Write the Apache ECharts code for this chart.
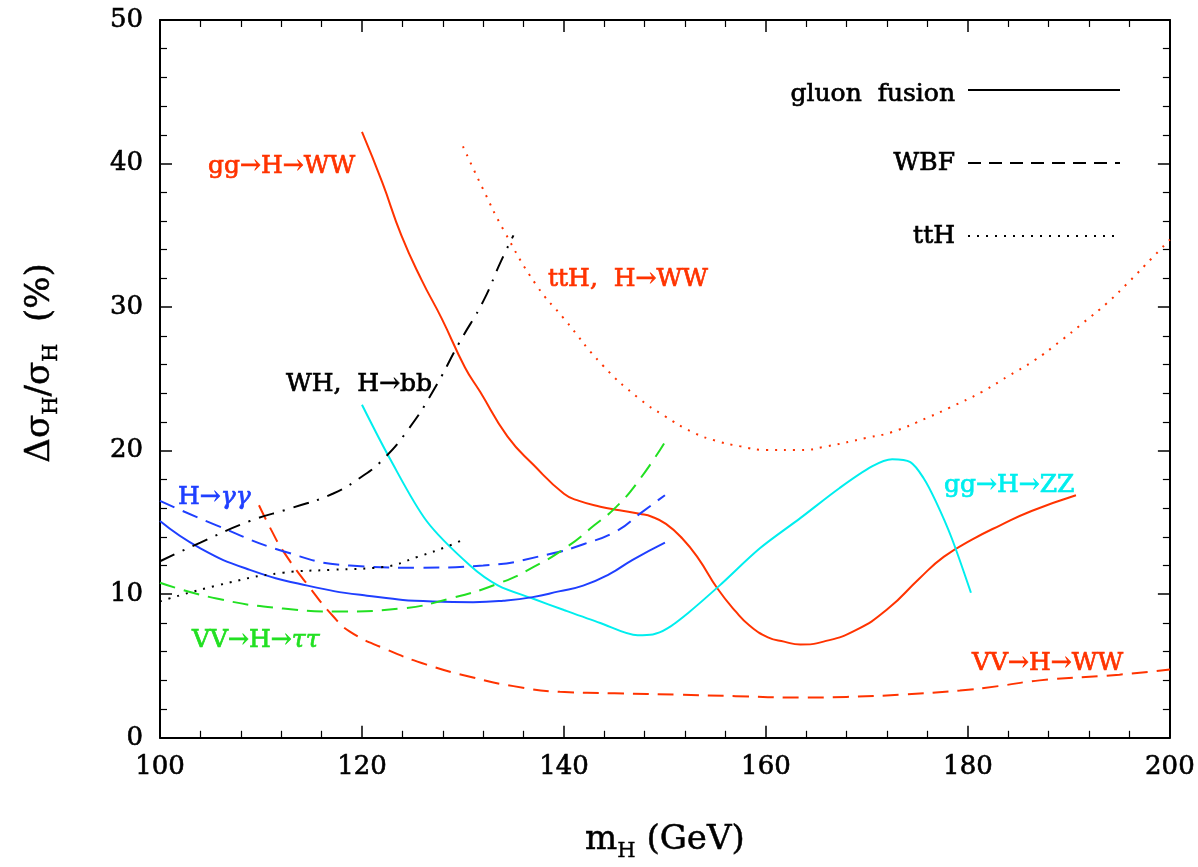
<!DOCTYPE html>
<html><head><meta charset="utf-8">
<script src="https://cdn.jsdelivr.net/npm/echarts@6/dist/echarts.min.js"></script>
<style>html,body{margin:0;padding:0;background:#fff}#c{width:1198px;height:867px}</style>
</head><body><div id="c"></div>
<script>
// x ticks / y ticks
const xTicks = [100, 120, 140, 160, 180, 200];
const yTicks = [0, 10, 20, 30, 40, 50];

// gluon fusion gg -> H -> WW (solid red)
const ggWW = [[120,42.2],[122,38.7],[123.9,35.0],[125.9,31.9],[127.9,29.2],[130.2,25.8],[131.7,24.1],[134.4,21.0],[137,19.0],[140,17.0],[141.5,16.5],[143.6,16.1],[145.5,15.85],[147.5,15.6],[148.7,15.4],[150.1,14.9],[151.7,13.9],[153.3,12.5],[155.2,10.4],[157,8.8],[158.4,7.8],[160.2,7.0],[161.8,6.7],[163.4,6.5],[165.7,6.7],[168.9,7.5],[172.1,9.0],[175.2,11.1],[177.6,12.6],[180.4,13.8],[183.2,14.8],[186.3,15.8],[190.7,16.9]];
// ttH, H -> WW (dotted red)
const ttHWW = [[130,41.2],[132,38.2],[134,35.4],[137.3,31.5],[140,29.2],[143.9,25.9],[147.5,23.6],[150,22.4],[152.7,21.3],[155,20.7],[157.5,20.3],[160,20.05],[163.4,20.05],[166,20.3],[170,20.9],[172.5,21.3],[176,22.3],[178.2,23.0],[181.4,24.1],[184,25.2],[186.6,26.3],[189.1,27.6],[191.4,28.9],[193.8,30.3],[196,31.8],[198.2,33.4],[200,34.7]];
// VV -> H -> WW (dashed red)
const vvWW = [[109.8,16.2],[111,14.5],[112.2,13.0],[114.9,10.4],[117.1,8.5],[118.8,7.4],[122.1,6.25],[126.4,5.1],[131,4.2],[135,3.6],[139.6,3.2],[145,3.1],[151.5,3.0],[157,2.9],[163.4,2.8],[168,2.85],[173.3,3.0],[179.2,3.3],[183,3.6],[187.1,4.0],[195,4.4],[200,4.75]];
// gluon fusion H -> gamma gamma (solid blue)
const ggAA = [[100,15.1],[104,13.2],[108.9,11.7],[114.6,10.6],[120.5,9.9],[127,9.5],[131,9.45],[134,9.55],[136.9,9.8],[139.5,10.2],[141.9,10.6],[144.5,11.4],[146.8,12.4],[150,13.6]];
// WBF H -> gamma gamma (dashed blue)
const vvAA = [[100,16.5],[105.6,14.8],[112.2,13.0],[118.8,12.0],[125.4,11.85],[132,12.0],[138.6,12.8],[142,13.5],[145.2,14.4],[147.5,15.6],[150,16.9]];
// VV -> H -> tau tau (dashed green)
const vvTT = [[100,10.8],[105.6,9.7],[112.2,9.0],[117.8,8.8],[123.8,9.0],[128.7,9.7],[133.7,10.8],[137,11.9],[140.3,13.3],[143,14.8],[145.2,16.1],[147.5,18.0],[150,20.6]];
// WH, H -> bb (dash-dot black)
const whBB = [[100,12.3],[104,13.6],[108.9,15.1],[113,16.0],[117.1,17.0],[120,18.2],[122.1,19.4],[124.5,21.4],[127,24.1],[129.7,27.6],[132,30.4],[133.7,33.1],[135,35.0]];
// ttH, H -> bb (dotted black)
const ttHBB = [[100,9.5],[105.6,10.6],[112.2,11.5],[117,11.7],[122.1,11.9],[125.5,12.6],[128.7,13.4],[130,13.8]];
// gg -> H -> ZZ (solid cyan)
const ggZZ = [[120,23.2],[122.8,19.4],[126.4,15.1],[130.7,12.0],[133.5,10.6],[136.9,9.7],[140,8.9],[143.6,8.0],[147.3,7.15],[148.8,7.2],[150.2,7.6],[152.3,8.7],[155.4,10.6],[159.4,13.2],[163.4,15.3],[167.3,17.4],[170.5,18.9],[172.5,19.4],[174.3,19.2],[175.6,18.1],[176.8,16.5],[178.4,13.9],[180.3,10.1]];

const RED = '#ff3300', BLUE = '#1f3fff', GREEN = '#22e022', CYAN = '#00eeee', BLACK = '#000';
const FONT = '"DejaVu Serif", serif';
const FS = 25;

function line(name, data, color, type, smooth) {
  return { name, type: 'line', data, showSymbol: false, smooth: smooth, clip: true,
    lineStyle: { color, width: 2, type }, itemStyle: { color }, animation: false };
}

const axisCommon = {
  axisLine: { show: true, onZero: false, lineStyle: { color: '#000', width: 2 } },
  axisTick: { show: true, inside: true, length: 12, lineStyle: { color: '#000', width: 1.5 } },
  minorTick: { show: true, splitNumber: 5, length: 7, lineStyle: { color: '#000', width: 1.2 } },
  splitLine: { show: false }, minorSplitLine: { show: false }
};
const tickLabel = { fontFamily: FONT, fontSize: 26, color: '#000', textBorderColor: '#000', textBorderWidth: 0.6 };
const titleRich = {
  m: { fontFamily: FONT, fontSize: 34, color: '#000', lineHeight: 44, textBorderColor: '#000', textBorderWidth: 0.5 },
  s: { fontFamily: FONT, fontSize: 21, color: '#000', lineHeight: 44, verticalAlign: 'bottom', padding: [16, 0, 0, 0], textBorderColor: '#000', textBorderWidth: 0.4 }
};

function label(x, y, text, color, extra) {
  return { type: 'text', x, y, style: Object.assign({ text, font: FS + 'px ' + FONT, fill: color,
    stroke: color, lineWidth: 0.7, textVerticalAlign: 'middle' }, extra || {}) };
}
function richLabel(x, y, a, b, color) {
  return { type: 'text', x, y, style: { text: '{a|' + a + '}{b|' + b + '}', fill: color, textVerticalAlign: 'middle',
    rich: { a: { fontFamily: FONT, fontSize: FS, fill: color, stroke: color, lineWidth: 0.7 },
            b: { fontFamily: FONT, fontSize: FS, fontStyle: 'italic', fill: color, stroke: color, lineWidth: 0.7 } } } };
}

const chart = echarts.init(document.getElementById('c'), null, { renderer: 'canvas' });
const option = {
  animation: false,
  backgroundColor: '#fff',
  grid: { left: 160, right: 28, top: 20, bottom: 127 },
  xAxis: [
    Object.assign({ type: 'value', min: xTicks[0], max: xTicks[xTicks.length-1], interval: 20, position: 'bottom',
      axisLabel: Object.assign({ margin: 16 }, tickLabel),
      name: '{m|m}{s|H}{m| (GeV)}', nameLocation: 'middle', nameGap: 80,
      nameTextStyle: { rich: titleRich }
    }, axisCommon),
    Object.assign({ type: 'value', min: 100, max: 200, interval: 20, position: 'top', axisLabel: { show: false } }, axisCommon)
  ],
  yAxis: [
    Object.assign({ type: 'value', min: yTicks[0], max: yTicks[yTicks.length-1], interval: 10, position: 'left',
      axisLabel: Object.assign({ margin: 17 }, tickLabel),
      name: '{m|Δσ}{s|H}{m|/σ}{s|H}{m|  (%)}', nameLocation: 'middle', nameGap: 98, nameRotate: 90,
      nameTextStyle: { rich: titleRich, padding: [0, 0, 0, 32] }
    }, axisCommon),
    Object.assign({ type: 'value', min: 0, max: 50, interval: 10, position: 'right', axisLabel: { show: false } }, axisCommon)
  ],
  series: [
    line('ttH H->WW', ttHWW, RED, [2, 7], true),
    line('VV H->WW', vvWW, RED, [16, 9], true),
    line('gg H->WW', ggWW, RED, 'solid', true),
    line('gg H->ZZ', ggZZ, CYAN, 'solid', 0.3),
    line('gg H->aa', ggAA, BLUE, 'solid', true),
    line('VV H->aa', vvAA, BLUE, [16, 9], true),
    line('VV H->tautau', vvTT, GREEN, [16, 9], true),
    line('WH H->bb', whBB, BLACK, [16, 9, 2, 9], true),
    line('ttH H->bb', ttHBB, BLACK, [2, 7], true)
  ],
  graphic: [
    label(208, 166, 'gg→H→WW', RED),
    label(548, 279, 'ttH,  H→WW', RED),
    label(286, 384, 'WH,  H→bb', BLACK),
    richLabel(178, 497, 'H→', 'γγ', BLUE),
    richLabel(192, 640, 'VV→H→', 'ττ', GREEN),
    label(944, 485, 'gg→H→ZZ', CYAN),
    label(972, 663, 'VV→H→WW', RED),
    label(955, 94, 'gluon  fusion', BLACK, { textAlign: 'right' }),
    label(955, 163, 'WBF', BLACK, { textAlign: 'right' }),
    label(955, 236, 'ttH', BLACK, { textAlign: 'right' }),
    { type: 'line', shape: { x1: 968, y1: 90, x2: 1120, y2: 90 }, style: { stroke: BLACK, lineWidth: 2 } },
    { type: 'line', shape: { x1: 968, y1: 163, x2: 1120, y2: 163 }, style: { stroke: BLACK, lineWidth: 2, lineDash: [13, 8] } },
    { type: 'line', shape: { x1: 968, y1: 236, x2: 1118, y2: 236 }, style: { stroke: BLACK, lineWidth: 2, lineDash: [2, 7] } }
  ]
};
chart.setOption(option);
</script></body></html>
